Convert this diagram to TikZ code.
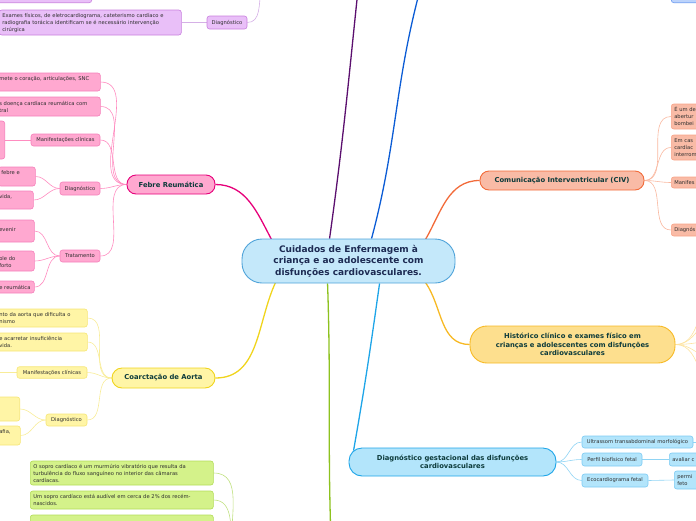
\documentclass[tikz,border=0pt]{standalone}
\usepackage{fontspec}
\setmainfont{DejaVu Sans}
\usetikzlibrary{calc,backgrounds}
\definecolor{rootfill}{HTML}{C4E8FA}
\definecolor{rootdraw}{HTML}{4FA3D9}
\definecolor{roottext}{HTML}{1D2B53}
\definecolor{topictext}{HTML}{0D3B3B}
\definecolor{subtext}{HTML}{2E2E2E}
\definecolor{febremain}{HTML}{E6007A}
\definecolor{febrefill}{HTML}{FFA8D0}
\definecolor{febredraw}{HTML}{F580BA}
\definecolor{febresub}{HTML}{FF8CC0}
\definecolor{civmain}{HTML}{F26B3A}
\definecolor{civfill}{HTML}{F9BBA6}
\definecolor{civdraw}{HTML}{F8A488}
\definecolor{civsub}{HTML}{F9B8A0}
\definecolor{histmain}{HTML}{F7B924}
\definecolor{histfill}{HTML}{FDDF8E}
\definecolor{histsub}{HTML}{FDE3A0}
\definecolor{gestmain}{HTML}{1EA5E8}
\definecolor{gestfill}{HTML}{B3E5FB}
\definecolor{gestdraw}{HTML}{7DCBF3}
\definecolor{gestsub}{HTML}{90D4F4}
\definecolor{coarmain}{HTML}{F0D41C}
\definecolor{coarfill}{HTML}{FFF5A6}
\definecolor{coardraw}{HTML}{F6E676}
\definecolor{coarsub}{HTML}{F8EC98}
\definecolor{sopromain}{HTML}{8DC21F}
\definecolor{soprofill}{HTML}{D4F28A}
\definecolor{soprodraw}{HTML}{B2DC58}
\definecolor{soprosub}{HTML}{C0E080}
\definecolor{roxomain}{HTML}{5B0F6E}
\definecolor{roxofill}{HTML}{E9BFF8}
\definecolor{roxodraw}{HTML}{C880DE}
\definecolor{roxosub}{HTML}{D5B0E6}
\definecolor{azulmain}{HTML}{0B5CD5}
\definecolor{azulfill}{HTML}{BCD3FB}
\definecolor{azuldraw}{HTML}{6B9AF0}

\begin{document}
\begin{tikzpicture}[x=1pt,y=1pt,
  raiz/.style={draw=rootdraw,fill=rootfill,line width=0.9pt,rounded corners=20pt,
               text=roottext,align=center,font=\fontsize{9}{11.5}\selectfont\bfseries,
               minimum width=213pt,minimum height=44pt,inner sep=0pt},
  topico/.style={line width=0.9pt,text=topictext,align=center,inner sep=0pt,
                 font=\fontsize{6.8}{8.3}\selectfont\bfseries},
  folha/.style={line width=0.6pt,rounded corners=2.5pt,text=subtext,
                inner xsep=3pt,inner ysep=0pt,font=\fontsize{5.2}{7}\selectfont},
  clipL/.style={anchor=west,align=left},
  ramo/.style={line width=1.3pt},
  galho/.style={line width=0.6pt},
  febreT/.style={topico,draw=febremain,fill=febrefill},
  febreF/.style={folha,draw=febredraw,fill=febrefill},
  febreR/.style={ramo,febremain}, febreL/.style={galho,febresub},
  civT/.style={topico,draw=civmain,fill=civfill},
  civF/.style={folha,draw=civdraw,fill=civfill},
  civR/.style={ramo,civmain}, civL/.style={galho,civsub},
  histT/.style={topico,draw=histmain,fill=histfill},
  histR/.style={ramo,histmain}, histL/.style={galho,histsub},
  gestT/.style={topico,draw=gestmain,fill=gestfill},
  gestF/.style={folha,draw=gestdraw,fill=gestfill},
  gestR/.style={ramo,gestmain}, gestL/.style={galho,gestsub},
  coarT/.style={topico,draw=coarmain,fill=coarfill},
  coarF/.style={folha,draw=coardraw,fill=coarfill},
  coarR/.style={ramo,coarmain}, coarL/.style={galho,coarsub},
  soproF/.style={folha,draw=soprodraw,fill=soprofill},
  soproR/.style={ramo,sopromain}, soproL/.style={galho,soprosub},
  roxoF/.style={folha,draw=roxodraw,fill=roxofill},
  roxoR/.style={ramo,roxomain}, roxoL/.style={galho,roxosub},
  azulF/.style={folha,draw=azuldraw,fill=azulfill},
  azulR/.style={ramo,azulmain}
]
\useasboundingbox (0,0) rectangle (696,-520);
\clip (0,0) rectangle (696,-520);

\node[raiz] (raiz) at (348.5,-261) {Cuidados de Enfermagem à\\criança e ao adolescente com\\disfunções cardiovasculares.};

% Febre Reumatica
\node[febreT,rounded corners=9pt,minimum width=88pt,minimum height=19pt] (febre) at (171,-184.5) {Febre Reumática};
\node[febreF,clipL,text width=98pt,minimum height=18pt] (fA) at (-4,-82) {mete o coração, articulações, SNC\\~};
\node[febreF,clipL,text width=98pt,minimum height=19pt] (fB) at (-4,-106.5) {s doença cardíaca reumática com\\tral};
\node[febreF,anchor=east,minimum width=40pt,minimum height=38pt] (fC) at (5,-140) {};
\node[febreF,minimum width=69pt,minimum height=12pt] (fManif) at (65.5,-140) {Manifestações clínicas};
\node[febreF,minimum width=40pt,minimum height=13pt] (fDiag) at (80,-188.5) {Diagnóstico};
\node[febreF,clipL,text width=31pt,minimum height=19pt] (fD1) at (-2,-176.5) {febre e\\~};
\node[febreF,clipL,text width=31pt,minimum height=18pt] (fD2) at (-4,-200) {vida,\\~};
\node[febreF,minimum width=40pt,minimum height=12pt] (fTrat) at (80,-256) {Tratamento};
\node[febreF,clipL,text width=32pt,minimum height=22pt] (fT1) at (-4,-231) {~\\evenir\\~};
\node[febreF,clipL,text width=32pt,minimum height=20pt] (fT2) at (-4,-261) {~\\ole do\\forto};
\node[febreF,clipL,text width=32pt,minimum height=12pt] (fT3) at (-4,-287) {e reumática};

% Coarctacao de Aorta
\node[coarT,rounded corners=10pt,minimum width=103pt,minimum height=20pt] (coarc) at (163.5,-378) {Coarctação de Aorta};
\node[coarF,clipL,text width=85pt,minimum height=18pt] (cY1) at (-4,-318) {nto da aorta que dificulta o\\nismo};
\node[coarF,clipL,text width=85pt,minimum height=18pt] (cY2) at (-4,-342) {e acarretar insuficiência\\vida.};
\node[coarF,minimum width=70pt,minimum height=11.5pt] (cManif) at (52,-372.5) {Manifestações clínicas};
\coordinate (cManifL) at (-10,-372.5);
\node[coarF,minimum width=41pt,minimum height=12pt] (cDiag) at (66.5,-420) {Diagnóstico};
\node[coarF,anchor=east,minimum width=40pt,minimum height=24pt] (cY3) at (20,-409) {};
\node[coarF,clipL,text width=18pt,minimum height=19pt] (cY4) at (-4,-435.5) {afia,\\~};

% sopro cardiaco
\node[soproF,clipL,text width=177pt,minimum height=24pt] (g1) at (30,-473) {O sopro cardíaco é um murmúrio vibratório que resulta da\\turbulência do fluxo sanguíneo no interior das câmaras\\cardíacas.};
\node[soproF,clipL,text width=177pt,minimum height=18pt] (g2) at (30,-500) {Um sopro cardíaco está audível em cerca de 2\% dos recém-\\nascidos.};
\node[soproF,anchor=west,minimum width=183pt,minimum height=26pt] (g3) at (30,-528) {};
\coordinate (gJ) at (232,-548);
\coordinate (soproJ) at (331,-540);

% ramo roxo e azul (topo)
\node[roxoF,anchor=south east,minimum width=100pt,minimum height=20pt] (pTop) at (92,-3) {};
\node[roxoF,clipL,text width=176pt,minimum height=25pt] (pExam) at (-1,-22.5) {Exames físicos, de eletrocardiograma, cateterismo cardíaco e\\radiografia torácica identificam se é necessário intervenção\\cirúrgica};
\node[roxoF,minimum width=40pt,minimum height=13pt] (pDiag) at (227,-22.5) {Diagnóstico};
\coordinate (pJ) at (261,10);
\coordinate (roxoJ) at (358,10);
\coordinate (azulJ) at (420,10);
\node[azulF,anchor=south west,minimum width=40pt,minimum height=20pt] (bTop) at (671,-3) {};

% CIV
\node[civT,rounded corners=9pt,minimum width=164pt,minimum height=19pt] (civ) at (562,-180.5) {Comunicação Interventricular (CIV)};
\node[civF,clipL,text width=40pt,minimum height=25pt] (v1) at (671,-116.5) {É um de\\abertur\\bombei};
\node[civF,clipL,text width=40pt,minimum height=25pt] (v2) at (671,-147.5) {Em cas\\cardíac\\interrom};
\node[civF,clipL,text width=40pt,minimum height=11pt] (v3) at (671,-182.5) {Manifes};
\node[civF,clipL,text width=40pt,minimum height=12pt] (v4) at (671,-230) {Diagnós};

% Historico clinico
\node[histT,rounded corners=17pt,minimum width=205pt,minimum height=37pt] (hist) at (572.5,-344.5) {Histórico clínico e exames físico em\\crianças e adolescentes com disfunções\\cardiovasculares};
\coordinate (h1) at (725,-285);
\coordinate (h2) at (725,-310);
\coordinate (h3) at (725,-340);
\coordinate (h4) at (725,-365);
\coordinate (h5) at (725,-398);

% Diagnostico gestacional
\node[gestT,rounded corners=13pt,minimum width=207pt,minimum height=28pt] (gest) at (452.5,-462) {Diagnóstico gestacional das disfunções\\cardiovasculares};
\node[gestF,minimum width=111pt,minimum height=12pt] (gUltra) at (637.5,-442) {Ultrassom transabdominal morfológico};
\node[gestF,minimum width=60pt,minimum height=13pt] (gPerfil) at (612,-459.5) {Perfil biofísico fetal};
\node[gestF,minimum width=66pt,minimum height=13pt] (gEco) at (615,-480.5) {Ecocardiograma fetal};
\node[gestF,clipL,text width=40pt,minimum height=13pt] (gAval) at (669,-459.5) {avaliar c};
\node[gestF,clipL,text width=40pt,minimum height=18pt] (gPerm) at (674,-480) {permi\\feto};
\coordinate (gUltraR) at (710,-442);

\begin{scope}[on background layer]
\clip (0,0) rectangle (696,-520);
\draw[febreR] (febre.east) to[out=0,in=118] ($(raiz.north west)+(30,-1)$);
\draw[roxoR] ($(raiz.north west)+(88,0)$) to[out=82,in=-96] (roxoJ);
\draw[azulR] ($(raiz.north west)+(130,0)$) to[out=75,in=-105] (azulJ);
\draw[civR] ($(raiz.north east)+(-30,-1)$) to[out=60,in=180] (civ.west);
\draw[histR] ($(raiz.south east)+(-30,1)$) to[out=-55,in=180] (hist.west);
\draw[gestR] ($(raiz.south west)+(138,0)$) to[out=-98,in=80] ($(gest.north west)+(5,-3)$);
\draw[soproR] ($(raiz.south west)+(86,0)$) to[out=-88,in=92] (soproJ);
\draw[coarR] (coarc.east) to[out=0,in=-115] ($(raiz.south west)+(34,1)$);

\draw[febreL] (febre.west) to[out=180,in=0] (fA.east);
\draw[febreL] (febre.west) to[out=180,in=0] (fB.east);
\draw[febreL] (febre.west) to[out=180,in=0] (fManif.east);
\draw[febreL] (febre.west) to[out=180,in=0] (fDiag.east);
\draw[febreL] (febre.west) to[out=180,in=0] (fTrat.east);
\draw[febreL] (fC.east) -- (fManif.west);
\draw[febreL] (fDiag.west) to[out=180,in=0] (fD1.east);
\draw[febreL] (fDiag.west) to[out=180,in=0] (fD2.east);
\draw[febreL] (fTrat.west) to[out=180,in=0] (fT1.east);
\draw[febreL] (fTrat.west) to[out=180,in=0] (fT2.east);
\draw[febreL] (fTrat.west) to[out=180,in=0] (fT3.east);

\draw[coarL] (coarc.west) to[out=180,in=0] (cY1.east);
\draw[coarL] (coarc.west) to[out=180,in=0] (cY2.east);
\draw[coarL] (coarc.west) to[out=180,in=0] (cManif.east);
\draw[coarL] (coarc.west) to[out=180,in=0] (cDiag.east);
\draw[coarL] (cManifL) -- (cManif.west);
\draw[coarL] (cDiag.west) to[out=180,in=0] (cY3.east);
\draw[coarL] (cDiag.west) to[out=180,in=0] (cY4.east);

\draw[soproL] (g1.east) to[out=0,in=95] (gJ);
\draw[soproL] (g2.east) to[out=0,in=95] (gJ);
\draw[soproL] (g3.east) to[out=0,in=95] (gJ);

\draw[roxoL] (pExam.east) -- (pDiag.west);
\draw[roxoL] (pDiag.east) to[out=0,in=-100] (pJ);

\draw[civL] (civ.east) to[out=0,in=180] (v1.west);
\draw[civL] (civ.east) to[out=0,in=180] (v2.west);
\draw[civL] (civ.east) to[out=0,in=180] (v3.west);
\draw[civL] (civ.east) to[out=0,in=180] (v4.west);

\draw[histL] (hist.east) to[out=0,in=180] (h1);
\draw[histL] (hist.east) to[out=0,in=180] (h2);
\draw[histL] (hist.east) to[out=0,in=180] (h3);
\draw[histL] (hist.east) to[out=0,in=180] (h4);
\draw[histL] (hist.east) to[out=0,in=180] (h5);

\draw[gestL] (gest.east) to[out=0,in=180] (gUltra.west);
\draw[gestL] (gest.east) to[out=0,in=180] (gPerfil.west);
\draw[gestL] (gest.east) to[out=0,in=180] (gEco.west);
\draw[gestL] (gPerfil.east) -- (gAval.west);
\draw[gestL] (gEco.east) -- (gPerm.west);
\draw[gestL] (gUltra.east) -- (gUltraR);
\end{scope}
\end{tikzpicture}
\end{document}
